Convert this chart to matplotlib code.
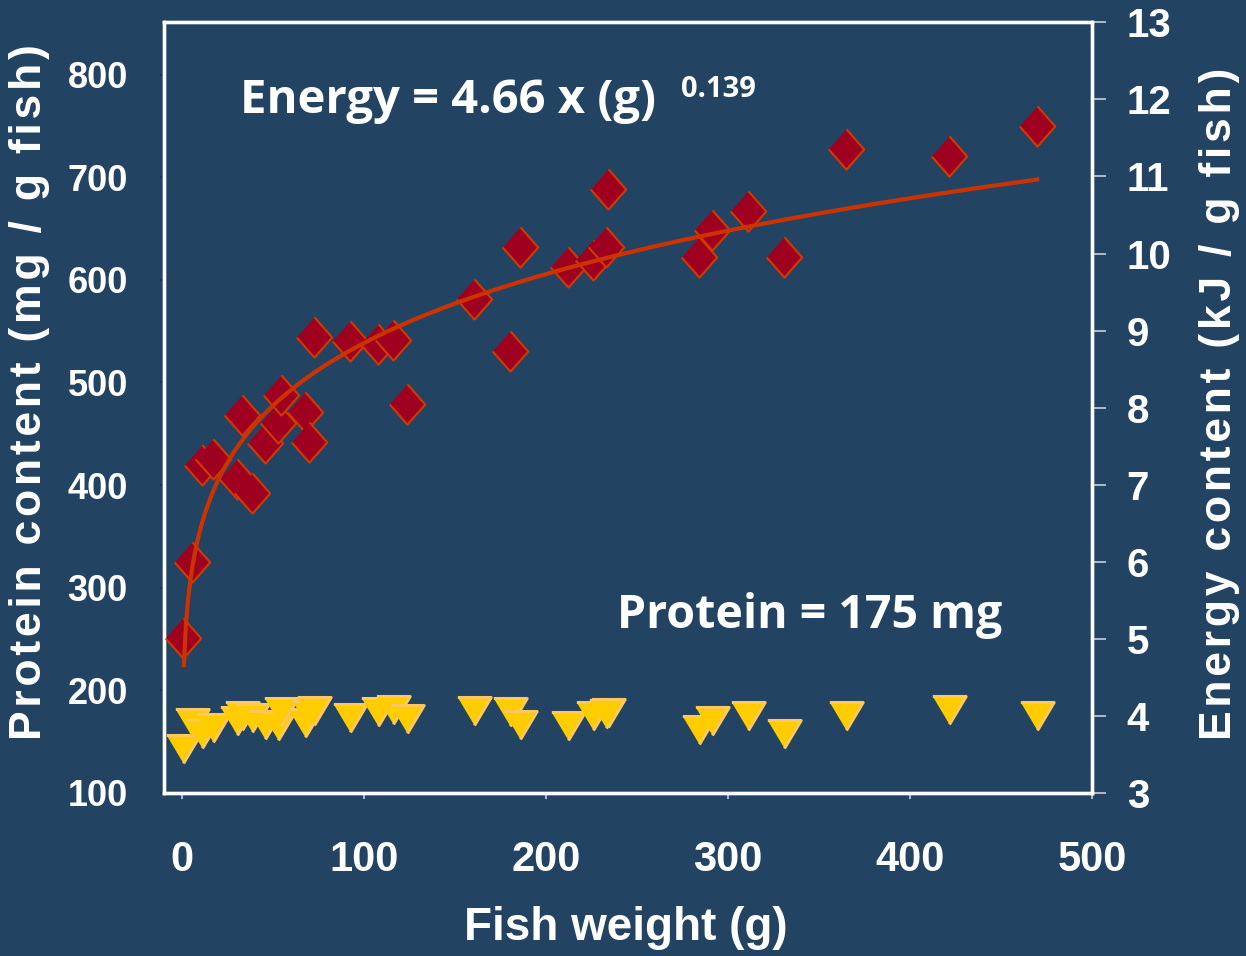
import numpy as np
import matplotlib
matplotlib.use("Agg")
import matplotlib.pyplot as plt

# fish weight (g), same fish for both measures
weight_g = [0.55, 5.5, 10.8, 17.2, 30.1, 32.8, 38.3, 45.6, 52.9, 54.4,
            67.6, 69.8, 72.5, 92.3, 107.7, 115.9, 123.6, 160.4, 180.2, 185.9,
            211.9, 226.0, 232.8, 234.2, 284.0, 291.0, 310.8, 330.9, 364.7, 421.6,
            469.9]
# energy content (kJ / g fish) -> right axis
energy_kj = [5.01, 6.00, 7.26, 7.33, 7.08, 7.91, 6.89, 7.54, 7.80, 8.16,
             7.95, 7.56, 8.92, 8.86, 8.83, 8.88, 8.05, 9.41, 8.74, 10.09,
             9.82, 9.92, 10.09, 10.84, 9.96, 10.30, 10.55, 9.95, 11.36, 11.27,
             11.65]
# protein content (mg / g fish) -> left axis
protein_mg = [142.9, 168.2, 157.5, 163.3, 169.9, 175.0, 173.1, 166.5, 165.6, 179.4,
              168.2, 176.0, 179.6, 173.1, 179.2, 180.6, 172.1, 179.9, 178.9, 166.3,
              165.5, 175.3, 176.5, 177.9, 161.4, 170.4, 175.3, 157.5, 175.0, 181.2,
              175.0]

fit_a, fit_b = 4.66, 0.139
left_ticks = [100, 200, 300, 400, 500, 600, 700, 800]
right_ticks = [3, 4, 5, 6, 7, 8, 9, 10, 11, 12, 13]
x_ticks = [0, 100, 200, 300, 400, 500]

bg = "#234363"
W, H = 1246, 956

def spaced(s):
    # loose letter spacing like the original slide
    return "\u200a".join(s)

fig = plt.figure(figsize=(W / 100, H / 100), dpi=100)
fig.patch.set_facecolor(bg)
ax = fig.add_axes([164 / W, 1 - 793 / H, (1092 - 164) / W, (793 - 22.3) / H])
ax.set_facecolor(bg)
ax2 = ax.twinx()

arial = ["Liberation Sans", "DejaVu Sans"]

# protein triangles
tri = [(-1, 0.84), (1, 0.84), (0, -0.84)]
ax.scatter(weight_g, protein_mg, marker=tri, s=24 ** 2, facecolor="#FFCC00",
           edgecolor="#FFC85A", linewidth=2.2, zorder=3, clip_on=False)

# energy diamonds + power fit
dia = [(0, 1), (0.88, 0), (0, -1), (-0.88, 0)]
ax2.scatter(weight_g, energy_kj, marker=dia, s=29 ** 2, facecolor="#A00020",
            edgecolor="#D03A00", linewidth=1.5, zorder=3, clip_on=False)
gx = np.linspace(1.0, max(weight_g), 400)
ax2.plot(gx, fit_a * gx ** fit_b, color="#CC3300", lw=3.0, zorder=4)

ax.set_xlim(-9.9, 500)
ax.set_ylim(100, 850.9)
ax2.set_ylim(3, 13)

ax.set_xticks(x_ticks)
ax.set_yticks(left_ticks)
ax2.set_yticks(right_ticks)

for a in (ax, ax2):
    for s in a.spines.values():
        s.set_color("white")
        s.set_linewidth(2.4)

ax.tick_params(axis="x", direction="out", length=4, width=1.2, color="#C8D0DA",
               pad=30, labelcolor="white", labelsize=30)
ax.tick_params(axis="y", direction="out", length=3, width=1.2, color="#1A3049",
               pad=23, labelcolor="white", labelsize=26)
ax2.tick_params(axis="y", direction="out", length=10, width=1.2, color="#C8D0DA",
                pad=15, labelcolor="white", labelsize=29)
for lab in ax.get_xticklabels() + ax.get_yticklabels() + ax2.get_yticklabels():
    lab.set_family(arial)
    lab.set_fontweight("bold")

# axis titles
fig.text(30 / W, 1 - 392 / H, spaced("Protein content (mg / g fish)"), rotation=90,
         ha="center", va="center", color="white", fontsize=32,
         fontweight="bold", family=arial)
fig.text(1220 / W, 1 - 404 / H, spaced("Energy content (kJ / g fish)"), rotation=90,
         ha="center", va="center", color="white", fontsize=32,
         fontweight="bold", family=arial)
fig.text(626 / W, 1 - 928 / H, "Fish weight (g)", ha="center", va="center",
         color="white", fontsize=33, fontweight="bold", family=arial)

# annotations
note_font = ["Open Sans", "DejaVu Sans"]
fig.text(240 / W, 1 - 113 / H, "Energy = 4.66 x (g)", ha="left", va="baseline",
         color="white", fontsize=34, fontweight="bold", family=note_font)
fig.text(681 / W, 1 - 97 / H, "0.139", ha="left", va="baseline",
         color="white", fontsize=21, fontweight="bold", family=note_font)
fig.text(617 / W, 1 - 628 / H, "Protein = 175 mg", ha="left", va="baseline",
         color="white", fontsize=33.5, fontweight="bold", family=note_font)

fig.savefig("out.png", dpi=100, facecolor=bg)
